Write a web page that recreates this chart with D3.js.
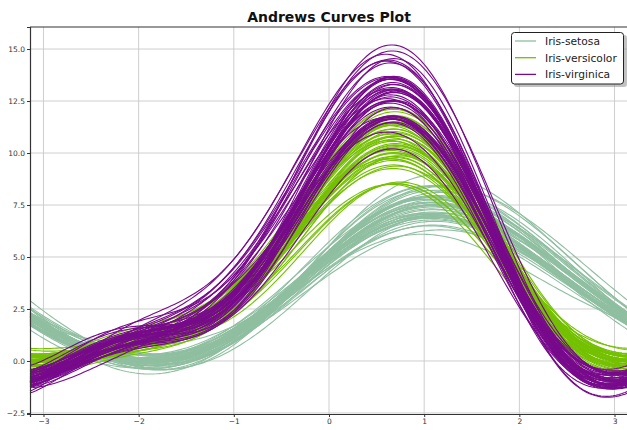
<!DOCTYPE html>
<html><head><meta charset="utf-8">
<script src="https://cdn.jsdelivr.net/npm/d3@7"></script>
<style>body{margin:0;background:#fff;overflow:hidden}svg{display:block;font-family:"DejaVu Sans",sans-serif}</style>
</head><body><svg id="c" width="627" height="430"></svg>
<script>
// Iris dataset (sepal length, sepal width, petal length, petal width)
const sepalLength=[5.1,4.9,4.7,4.6,5.0,5.4,4.6,5.0,4.4,4.9,5.4,4.8,4.8,4.3,5.8,5.7,5.4,5.1,5.7,5.1,5.4,5.1,4.6,5.1,4.8,5.0,5.0,5.2,5.2,4.7,4.8,5.4,5.2,5.5,4.9,5.0,5.5,4.9,4.4,5.1,5.0,4.5,4.4,5.0,5.1,4.8,5.1,4.6,5.3,5.0,
7.0,6.4,6.9,5.5,6.5,5.7,6.3,4.9,6.6,5.2,5.0,5.9,6.0,6.1,5.6,6.7,5.6,5.8,6.2,5.6,5.9,6.1,6.3,6.1,6.4,6.6,6.8,6.7,6.0,5.7,5.5,5.5,5.8,6.0,5.4,6.0,6.7,6.3,5.6,5.5,5.5,6.1,5.8,5.0,5.6,5.7,5.7,6.2,5.1,5.7,
6.3,5.8,7.1,6.3,6.5,7.6,4.9,7.3,6.7,7.2,6.5,6.4,6.8,5.7,5.8,6.4,6.5,7.7,7.7,6.0,6.9,5.6,7.7,6.3,6.7,7.2,6.2,6.1,6.4,7.2,7.4,7.9,6.4,6.3,6.1,7.7,6.3,6.4,6.0,6.9,6.7,6.9,5.8,6.8,6.7,6.7,6.3,6.5,6.2,5.9];
const sepalWidth=[3.5,3.0,3.2,3.1,3.6,3.9,3.4,3.4,2.9,3.1,3.7,3.4,3.0,3.0,4.0,4.4,3.9,3.5,3.8,3.8,3.4,3.7,3.6,3.3,3.4,3.0,3.4,3.5,3.4,3.2,3.1,3.4,4.1,4.2,3.1,3.2,3.5,3.1,3.0,3.4,3.5,2.3,3.2,3.5,3.8,3.0,3.8,3.2,3.7,3.3,
3.2,3.2,3.1,2.3,2.8,2.8,3.3,2.4,2.9,2.7,2.0,3.0,2.2,2.9,2.9,3.1,3.0,2.7,2.2,2.5,3.2,2.8,2.5,2.8,2.9,3.0,2.8,3.0,2.9,2.6,2.4,2.4,2.7,2.7,3.0,3.4,3.1,2.3,3.0,2.5,2.6,3.0,2.6,2.3,2.7,3.0,2.9,2.9,2.5,2.8,
3.3,2.7,3.0,2.9,3.0,3.0,2.5,2.9,2.5,3.6,3.2,2.7,3.0,2.5,2.8,3.2,3.0,3.8,2.6,2.2,3.2,2.8,2.8,2.7,3.3,3.2,2.8,3.0,2.8,3.0,2.8,3.8,2.8,2.8,2.6,3.0,3.4,3.1,3.0,3.1,3.1,3.1,2.7,3.2,3.3,3.0,2.5,3.0,3.4,3.0];
const petalLength=[1.4,1.4,1.3,1.5,1.4,1.7,1.4,1.5,1.4,1.5,1.5,1.6,1.4,1.1,1.2,1.5,1.3,1.4,1.7,1.5,1.7,1.5,1.0,1.7,1.9,1.6,1.6,1.5,1.4,1.6,1.6,1.5,1.5,1.4,1.5,1.2,1.3,1.5,1.3,1.5,1.3,1.3,1.3,1.6,1.9,1.4,1.6,1.4,1.5,1.4,
4.7,4.5,4.9,4.0,4.6,4.5,4.7,3.3,4.6,3.9,3.5,4.2,4.0,4.7,3.6,4.4,4.5,4.1,4.5,3.9,4.8,4.0,4.9,4.7,4.3,4.4,4.8,5.0,4.5,3.5,3.8,3.7,3.9,5.1,4.5,4.5,4.7,4.4,4.1,4.0,4.4,4.6,4.0,3.3,4.2,4.2,4.2,4.3,3.0,4.1,
6.0,5.1,5.9,5.6,5.8,6.6,4.5,6.3,5.8,6.1,5.1,5.3,5.5,5.0,5.1,5.3,5.5,6.7,6.9,5.0,5.7,4.9,6.7,4.9,5.7,6.0,4.8,4.9,5.6,5.8,6.1,6.4,5.6,5.1,5.6,6.1,5.6,5.5,4.8,5.4,5.6,5.1,5.1,5.9,5.7,5.2,5.0,5.2,5.4,5.1];
const petalWidth=[0.2,0.2,0.2,0.2,0.2,0.4,0.3,0.2,0.2,0.1,0.2,0.2,0.1,0.1,0.2,0.4,0.4,0.3,0.3,0.3,0.2,0.4,0.2,0.5,0.2,0.2,0.4,0.2,0.2,0.2,0.2,0.4,0.1,0.2,0.1,0.2,0.2,0.1,0.2,0.2,0.3,0.3,0.2,0.6,0.4,0.3,0.2,0.2,0.2,0.2,
1.4,1.5,1.5,1.3,1.5,1.3,1.6,1.0,1.3,1.4,1.0,1.5,1.0,1.4,1.3,1.4,1.5,1.0,1.5,1.1,1.8,1.3,1.5,1.2,1.3,1.4,1.4,1.7,1.5,1.0,1.1,1.0,1.2,1.6,1.5,1.6,1.5,1.3,1.3,1.3,1.2,1.4,1.2,1.0,1.3,1.2,1.3,1.3,1.1,1.3,
2.5,1.9,2.1,1.8,2.2,2.1,1.7,1.8,1.8,2.5,2.0,1.9,2.1,2.0,2.4,2.3,1.8,2.2,2.3,1.5,2.3,2.0,2.0,1.8,2.1,1.8,1.8,1.8,2.1,1.6,1.9,2.0,2.2,1.5,1.4,2.3,2.4,1.8,1.8,2.1,2.4,2.3,1.9,2.3,2.5,2.3,1.9,2.0,2.3,1.8];
const classes=["Iris-setosa","Iris-versicolor","Iris-virginica"];
const classCounts=[50,50,50];
const colors=["#8fbfa0","#74c000","#780a8c"];
const xTicks=[-3,-2,-1,0,1,2,3];
const yTicks=[-2.5,0,2.5,5,7.5,10,12.5,15];
const title="Andrews Curves Plot";

const species=[];classes.forEach((c,i)=>{for(let k=0;k<classCounts[i];k++)species.push(c);});
const rows=sepalLength.map((v,i)=>({cls:species[i],a:[v,sepalWidth[i],petalLength[i],petalWidth[i]]}));
const samples=200;
const ts=d3.range(samples).map(i=>-Math.PI+2*Math.PI*i/(samples-1));
function andrews(a,t){let r=a[0]/Math.SQRT2,h=1;let k=1;for(;k+1<a.length;k+=2){r+=a[k]*Math.sin(h*t)+a[k+1]*Math.cos(h*t);h++;}if(k<a.length)r+=a[k]*Math.sin(h*t);return r;}

const svg=d3.select("#c");
const L=30,R=628,T=27,B=414;
const x=d3.scaleLinear().domain([-Math.PI,Math.PI]).range([L,R]);
const y=d3.scaleLinear().domain([-2.55,16.06]).range([B,T]);
const color=d3.scaleOrdinal().domain(classes).range(colors);

// grid
const g=svg.append("g");
g.selectAll(".gx").data(xTicks).join("line").attr("x1",d=>x(d)).attr("x2",d=>x(d)).attr("y1",T).attr("y2",B).attr("stroke","#c8c8c8").attr("stroke-width",0.9);
g.selectAll(".gy").data(yTicks).join("line").attr("x1",L).attr("x2",R).attr("y1",d=>y(d)).attr("y2",d=>y(d)).attr("stroke","#c8c8c8").attr("stroke-width",0.9);

// curves
const line=d3.line().x(d=>x(d[0])).y(d=>y(d[1]));
svg.append("g").selectAll("path").data(rows).join("path")
 .attr("d",r=>line(ts.map(t=>[t,andrews(r.a,t)])))
 .attr("fill","none").attr("stroke",r=>color(r.cls)).attr("stroke-width",1.1);

// axes
const xa=svg.append("g").attr("transform",`translate(0,${B})`).call(d3.axisBottom(x).tickValues(xTicks).tickSize(3).tickPadding(2).tickFormat(d=>d<0?"\u2212"+(-d):d));
const ya=svg.append("g").attr("transform",`translate(${L},0)`).call(d3.axisLeft(y).tickValues(yTicks).tickSize(3).tickPadding(2).tickFormat(d=>(d<0?"\u2212":"")+Math.abs(d).toFixed(1)));
[xa,ya].forEach(a=>{a.select(".domain").attr("stroke","#333").attr("stroke-width",1.2);a.selectAll("text").attr("fill","#333").style("font-size","7.5px").style("font-family","DejaVu Sans");a.selectAll(".tick line").attr("stroke","#333");});
svg.append("line").attr("x1",L).attr("x2",R).attr("y1",T).attr("y2",T).attr("stroke","#333").attr("stroke-width",1.2);

// title
svg.append("text").attr("x",(L+R)/2).attr("y",22).attr("text-anchor","middle").style("font-weight","bold").style("font-size","14px").attr("fill","#111").text(title);

// legend
const lg=svg.append("g");
lg.append("rect").attr("x",514).attr("y",35).attr("width",113).attr("height",52).attr("rx",3).attr("fill","#999").attr("opacity",0.6);
lg.append("rect").attr("x",511.5).attr("y",32.5).attr("width",112).attr("height",51.5).attr("rx",3).attr("fill","#fff").attr("stroke","#222").attr("stroke-width",1);
classes.forEach((c,i)=>{
 const yy=41+i*16.7;
 lg.append("line").attr("x1",515).attr("x2",536).attr("y1",yy).attr("y2",yy).attr("stroke",colors[i]).attr("stroke-width",1.3);
 lg.append("text").attr("x",545).attr("y",yy+4).style("font-size","10.7px").attr("fill","#222").text(c);
});
</script></body></html>
